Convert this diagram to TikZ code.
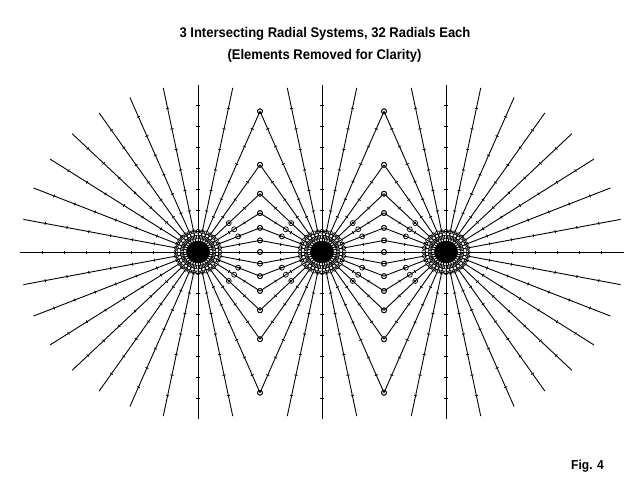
\documentclass[tikz,border=0pt]{standalone}
\usepackage{fontspec}
\newfontfamily\captionfont[FakeStretch=0.93]{Liberation Sans}
\usetikzlibrary{calc}

\tikzset{
  wire/.style={line width=0.9pt},
  segtick/.style={line width=0.8pt},
  junction/.style={circle, draw, line width=0.7pt, inner sep=0pt, minimum size=5pt},
  feedpt/.style={circle, draw, line width=0.6pt, inner sep=0pt, minimum size=4pt},
  heading/.style={font=\captionfont\bfseries\fontsize{14}{16}\selectfont, inner sep=0pt, anchor=base},
}

\begin{document}
\begin{tikzpicture}[x=1pt, y=-1pt]
    \useasboundingbox (0,0) rectangle (640,480);

    % headings
    \node[heading] (title) at (325,37.7) {3 Intersecting Radial Systems, 32 Radials Each};
    \node[heading] (subtitle) at (324.5,59.8) {(Elements Removed for Clarity)};
    \node[heading, font=\captionfont\bfseries\fontsize{13}{15}\selectfont] (fig) at (587.5,469.3) {Fig. 4};

    % three radial systems, 124 apart
    \foreach \sys/\cx in {0/198, 1/322, 2/446} {
      \begin{scope}[shift={(\cx,252)}, yscale=-0.94]
        \foreach \k in {0,...,31} {
          \pgfmathsetmacro\ang{\k*11.25}
          \pgfmathsetmacro\cs{cos(\ang)}
          \pgfmathtruncatemacro\cut{((\cs>0.35)&&(\sys<2)) || ((\cs<-0.35)&&(\sys>0))}
          \pgfmathsetmacro\len{\cut ? 62/max(abs(\cs),0.01) : 178}
          \pgfmathtruncatemacro\nseg{round(\len/21)}
          \pgfmathtruncatemacro\nlast{\nseg-1}
          \draw[wire] (0,0) -- (\ang:\len) coordinate (end\sys-\k);
          \foreach \j in {1,...,\nlast} {
            \pgfmathsetmacro\rr{\j*\len/\nseg}
            \draw[segtick] ($(\ang:\rr)+(\ang+90:1.6)$) -- ($(\ang:\rr)+(\ang-90:1.6)$);
          }
          % ring at the feed
          \node[feedpt] (in\sys-\k) at (\ang:16) {};
          \node[feedpt] (out\sys-\k) at (\ang:22) {};
          \ifnum\cut=1
            \node[junction] (join\sys-\k) at (end\sys-\k) {};
            \pgfmathtruncatemacro\mid{(abs(\cs)>0.7)&&(abs(\cs)<0.95)}
            \ifnum\mid=1
              \node[junction] (mid\sys-\k) at (\ang:43.5) {};
            \fi
          \fi
        }
        \fill (0,0) circle (12);
      \end{scope}
    }
\end{tikzpicture}
\end{document}
